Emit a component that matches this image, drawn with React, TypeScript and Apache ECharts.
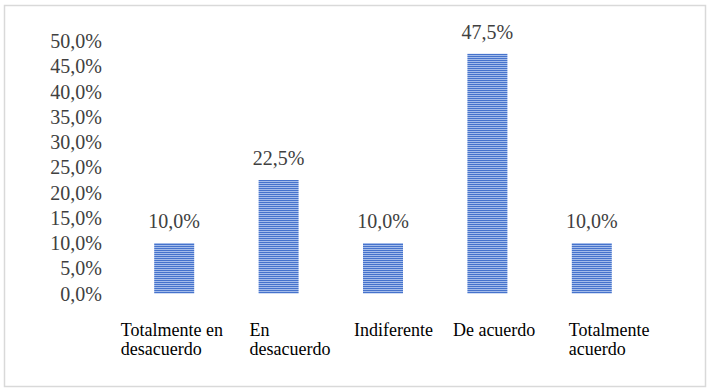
import React, { useEffect, useRef } from "react";
import * as echarts from "echarts";

const categories: string[] = [
  "Totalmente en\ndesacuerdo",
  "En\ndesacuerdo",
  "Indiferente",
  "De acuerdo",
  "Totalmente\nacuerdo",
];
const values: number[] = [10.0, 22.5, 10.0, 47.5, 10.0];
const yTicks: number[] = [0, 5, 10, 15, 20, 25, 30, 35, 40, 45, 50];

const FONT = "Liberation Serif";
const fmtPct = (v: number) => v.toFixed(1).replace(".", ",") + "%";
const labelBoxWidths = [107, 58, 58, 69, 46];

function makeStripes(): string {
  const c = document.createElement("canvas");
  c.width = 4;
  c.height = 2;
  const ctx = c.getContext("2d")!;
  ctx.fillStyle = "#4673cc";
  ctx.fillRect(0, 0, 4, 1);
  ctx.fillStyle = "#a4bcea";
  ctx.fillRect(0, 1, 4, 1);
  return c.toDataURL();
}

export default function App() {
  const ref = useRef<HTMLDivElement>(null);
  useEffect(() => {
    if (!ref.current) return;
    const chart = echarts.init(ref.current, undefined, { renderer: "svg" });
    const rich: Record<string, any> = {};
    labelBoxWidths.forEach((w, i) => {
      rich["c" + i] = {
        width: w,
        align: "left",
        fontFamily: FONT,
        fontSize: 18,
        lineHeight: 19,
        color: "#000000",
      };
    });
    const stripeImg = makeStripes();
    chart.setOption({
      animation: false,
      backgroundColor: "#ffffff",
      textStyle: { fontFamily: FONT },
      grid: {
        left: 122,
        right: 66,
        top: 41,
        bottom: 98.5,
        containLabel: false,
        outerBoundsMode: "none",
      },
      xAxis: {
        type: "category",
        data: categories,
        axisLine: { show: false },
        axisTick: { show: false },
        splitLine: { show: false },
        axisLabel: {
          interval: 0,
          margin: 27,
          hideOverlap: false,
          fontFamily: FONT,
          fontSize: 18,
          formatter: (val: string, idx: number) =>
            val
              .split("\n")
              .map((ln) => `{c${idx}|${ln}}`)
              .join("\n"),
          rich,
        },
      },
      yAxis: {
        type: "value",
        min: yTicks[0],
        max: yTicks[yTicks.length - 1],
        interval: yTicks[1] - yTicks[0],
        axisLine: { show: false },
        axisTick: { show: false },
        splitLine: { show: false },
        axisLabel: {
          margin: 20,
          fontFamily: FONT,
          fontSize: 20,
          color: "#404040",
          formatter: (v: number) => fmtPct(v),
        },
      },
      series: [
        {
          type: "bar",
          data: values,
          barWidth: 40,
          itemStyle: {
            color: {
              image: stripeImg,
              repeat: "repeat",
              imageWidth: 4,
              imageHeight: 2,
            },
          },
          label: {
            show: true,
            position: "top",
            distance: 12,
            fontFamily: FONT,
            fontSize: 20,
            color: "#404040",
            formatter: (p: any) => fmtPct(p.value),
          },
        },
      ],
      graphic: [
        {
          type: "rect",
          shape: { x: 4.5, y: 5.5, width: 701, height: 381 },
          style: { fill: "none", stroke: "#d9d9d9", lineWidth: 1.5 },
          silent: true,
        },
      ],
    });
    return () => chart.dispose();
  }, []);
  return (
    <div
      ref={ref}
      style={{ position: "fixed", left: 0, top: 0, width: 710, height: 392 }}
    />
  );
}
